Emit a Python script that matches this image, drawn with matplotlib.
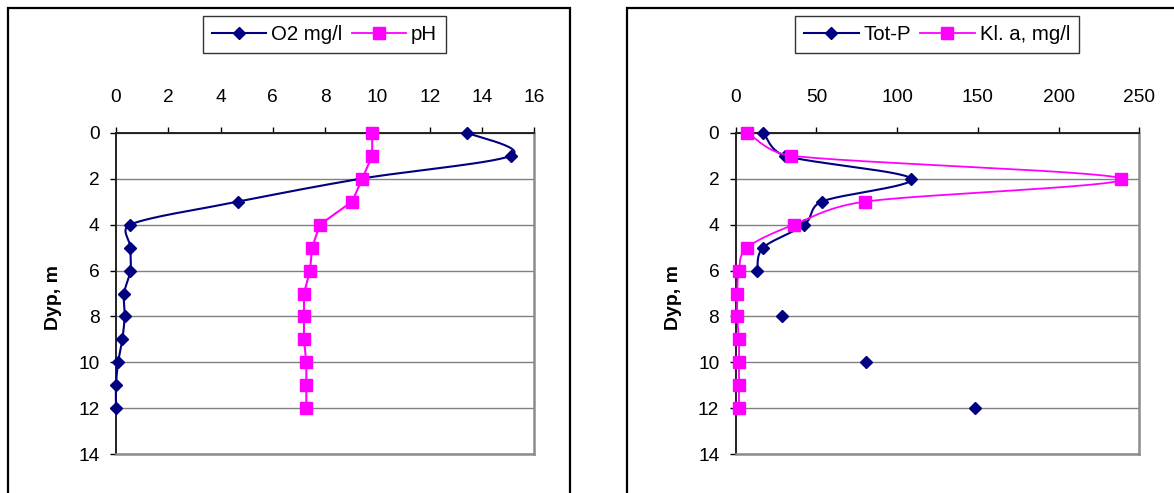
import numpy as np
import matplotlib
matplotlib.use("Agg")
import matplotlib.pyplot as plt
from matplotlib.patches import Rectangle
from matplotlib.lines import Line2D

plt.rcParams['font.family'] = ['Liberation Sans', 'DejaVu Sans']

# ---------------- data ----------------
depth = [0, 1, 2, 3, 4, 5, 6, 7, 8, 9, 10, 11, 12]
o2 = [13.43, 15.11, 9.38, 4.68, 0.54, 0.55, 0.55, 0.31, 0.33, 0.24, 0.08, 0.0, 0.0]
ph = [9.80, 9.80, 9.42, 9.03, 7.80, 7.50, 7.42, 7.19, 7.19, 7.19, 7.28, 7.28, 7.28]
tot_p = [17.1, 30.5, 108.6, 53.3, 42.5, 17.1, 13.4, None, 28.5, None, 81.0, None, 148.4]
kl_a = [7.2, 34.3, 238.7, 80.1, 36.1, 7.2, 2.0, 1.0, 1.0, 2.0, 2.0, 2.0, 2.0]

left_ticks = [0, 2, 4, 6, 8, 10, 12, 14, 16]
right_ticks = [0, 50, 100, 150, 200, 250]
depth_ticks = [0, 2, 4, 6, 8, 10, 12, 14]

NAVY = '#000080'
MAG = '#FF00FF'
W, H = 1174, 493
FS = 13.8      # tick labels
FS_LEG = 14.7  # legend
FS_LAB = 14.0  # axis title


def smooth(ax, xs, ys, n=30, limit=0.5):
    """Excel-like smoothed line (Catmull-Rom Bezier, computed in screen space)."""
    pts = ax.transData.transform(np.column_stack([xs, ys]).astype(float))
    if len(pts) < 2:
        return ax.transData.inverted().transform(pts)
    out = [pts[0]]
    t = np.linspace(0, 1, n)[1:, None]

    def clamp(h, seglen):
        L = np.hypot(*h)
        m = limit * seglen
        return h * (m / L) if L > m and L > 0 else h

    for i in range(len(pts) - 1):
        p0 = pts[i - 1] if i > 0 else pts[i]
        p1 = pts[i]
        p2 = pts[i + 1]
        p3 = pts[i + 2] if i + 2 < len(pts) else pts[i + 1]
        seglen = np.hypot(*(p2 - p1))
        c1 = p1 + clamp((p2 - p0) / 6.0, seglen)
        c2 = p2 - clamp((p3 - p1) / 6.0, seglen)
        seg = (1 - t) ** 3 * p1 + 3 * (1 - t) ** 2 * t * c1 + 3 * (1 - t) * t ** 2 * c2 + t ** 3 * p2
        out.extend(seg)
    return ax.transData.inverted().transform(np.array(out))


def runs(xs, ys):
    cur_x, cur_y = [], []
    for x, y in zip(xs, ys):
        if x is None:
            if cur_x:
                yield cur_x, cur_y
            cur_x, cur_y = [], []
        else:
            cur_x.append(x)
            cur_y.append(y)
    if cur_x:
        yield cur_x, cur_y


fig = plt.figure(figsize=(W / 100, H / 100), dpi=100)


def px_axes(x0, y0, x1, y1):
    return fig.add_axes([x0 / W, 1 - y1 / H, (x1 - x0) / W, (y1 - y0) / H])


# chart frames
fig.patches.append(Rectangle((8 / W, -0.2), (570 - 8) / W, 1.2 - 7.5 / H, transform=fig.transFigure,
                             fill=False, edgecolor='black', lw=1.6, zorder=0))
fig.patches.append(Rectangle((627 / W, -0.2), 0.5, 1.2 - 7.5 / H, transform=fig.transFigure,
                             fill=False, edgecolor='black', lw=1.6, zorder=0))


def style(ax, xmax, xticks, label_px):
    ax.set_xlim(0, xmax)
    ax.set_ylim(14, 0)
    ax.xaxis.tick_top()
    ax.set_xticks(xticks)
    ax.set_yticks(depth_ticks)
    ax.set_xticklabels([str(v) for v in xticks])
    ax.set_yticklabels([str(v) for v in depth_ticks])
    ax.tick_params(axis='x', direction='out', length=4.3, width=1, pad=15.0, labelsize=FS, colors='black')
    ax.tick_params(axis='y', direction='out', length=4.3, width=1, pad=7.5, labelsize=FS, colors='black')
    ax.grid(axis='y', color='#808080', lw=1.0)
    ax.set_axisbelow(True)
    for sp in ('top', 'left'):
        ax.spines[sp].set_color('#222222')
        ax.spines[sp].set_linewidth(1.4)
    for sp in ('right', 'bottom'):
        ax.spines[sp].set_color('#8c8c8c')
        ax.spines[sp].set_linewidth(1.8)
    ax.set_ylabel('Dyp, m', fontsize=FS_LAB, fontweight='bold')
    bb = ax.get_position()
    ax_w_px = bb.width * W
    ax.yaxis.set_label_coords(label_px / ax_w_px, 0.4876)


def legend(ax, labels, cx):
    handles = [
        Line2D([], [], color=NAVY, lw=1.5, marker='D', ms=6.5, mfc=NAVY, mec=NAVY),
        Line2D([], [], color=MAG, lw=1.3, marker='s', ms=8.5, mfc=MAG, mec=MAG),
    ]
    leg = ax.legend(handles, labels, loc='center', bbox_to_anchor=(cx / W, 1 - 34.5 / H),
                    bbox_transform=fig.transFigure, ncol=2, fontsize=FS_LEG, frameon=True,
                    fancybox=False, edgecolor='#333333', framealpha=1, numpoints=1,
                    handlelength=2.65, handletextpad=0.25, columnspacing=0.45,
                    borderpad=0.45, borderaxespad=0)
    leg.get_frame().set_linewidth(1.0)


# ---------- left chart ----------
ax1 = px_axes(116, 132.7, 534.3, 454.3)
style(ax1, 16, left_ticks, 62 - 116)
s = smooth(ax1, o2, depth)
ax1.plot(s[:, 0], s[:, 1], color=NAVY, lw=1.5, zorder=3, clip_on=False)
ax1.plot(o2, depth, ls='none', marker='D', ms=6.5, color=NAVY, zorder=4, clip_on=False)
ax1.plot(ph, depth, color=MAG, lw=1.5, marker='s', ms=8.5, mfc=MAG, mec=MAG, zorder=5, clip_on=False)
legend(ax1, ['O2 mg/l', 'pH'], 324.5)

# ---------- right chart ----------
ax2 = px_axes(735.7, 132.7, 1139.3, 454.3)
style(ax2, 250, right_ticks, 681.5 - 735.7)
for xs, ys in runs(tot_p, depth):
    if len(xs) > 1:
        s = smooth(ax2, xs, ys)
        ax2.plot(s[:, 0], s[:, 1], color=NAVY, lw=1.5, zorder=3, clip_on=False)
tp_x = [v for v in tot_p if v is not None]
tp_y = [d for v, d in zip(tot_p, depth) if v is not None]
ax2.plot(tp_x, tp_y, ls='none', marker='D', ms=6.5, color=NAVY, zorder=4, clip_on=False)
s = smooth(ax2, kl_a, depth)
ax2.plot(s[:, 0], s[:, 1], color=MAG, lw=1.3, zorder=5, clip_on=False)
ax2.plot(kl_a, depth, ls='none', marker='s', ms=8.5, mfc=MAG, mec=MAG, zorder=6, clip_on=False)
legend(ax2, ['Tot-P', 'Kl. a, mg/l'], 937.2)

fig.savefig('out.png', dpi=100)
